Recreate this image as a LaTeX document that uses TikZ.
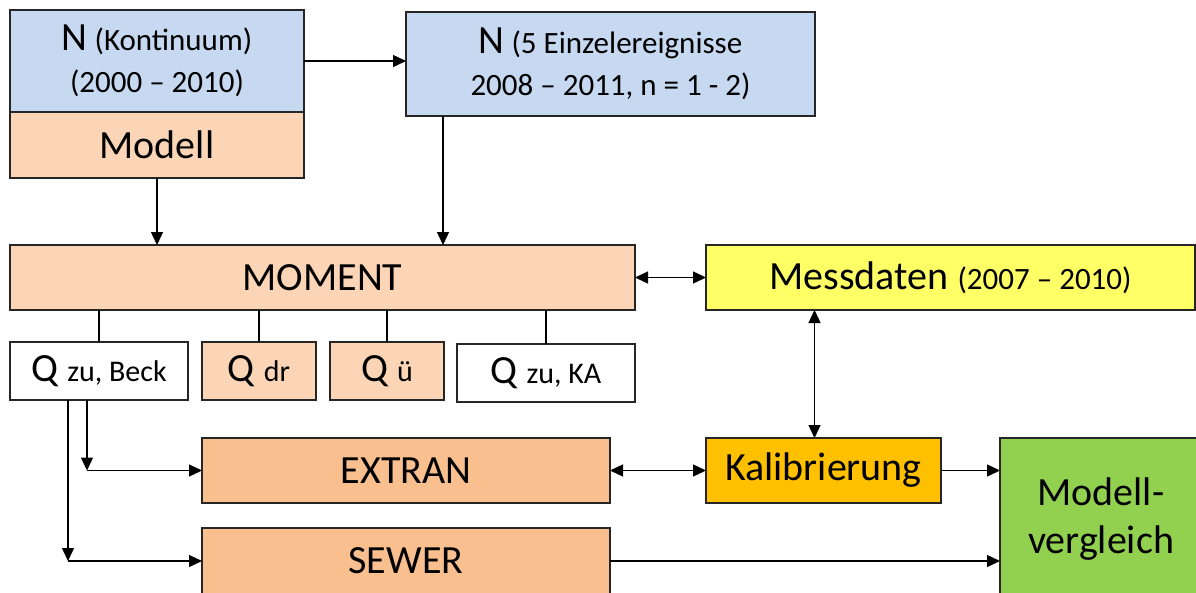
\documentclass[tikz,border=0pt]{standalone}
\usepackage{fontspec}
\setmainfont{Carlito}
\usetikzlibrary{arrows.meta}
\definecolor{nblue}{HTML}{C6D9F1}
\definecolor{peach}{HTML}{FBD5B5}
\definecolor{myTan}{HTML}{F9BF8F}
\definecolor{myYellow}{HTML}{FFFF66}
\definecolor{myOrange}{HTML}{FFC000}
\definecolor{myGreen}{HTML}{92D050}
\newcommand\fsz[2]{\fontsize{#1}{#2}\selectfont}
\newcommand\bigtxt[1]{{\fsz{40}{42}#1}}
\begin{document}
\begin{tikzpicture}[x=1pt,y=-1pt,
  box/.style={draw=black!85, line width=1.2pt, inner sep=0pt, outer sep=0pt, align=center, font=\fsz{40}{48}},
  small/.style={font=\fsz{31}{42}},
  arr/.style={-{Triangle[length=13pt,width=12pt]}, line width=1.4pt},
  darr/.style={{Triangle[length=13pt,width=12pt]}-{Triangle[length=13pt,width=12pt]}, line width=1.4pt},
  tie/.style={line width=1.4pt}]
\useasboundingbox (0,0) rectangle (1196,592);
\clip (0,0) rectangle (1196,592);
% top boxes
\node[box, small, fill=nblue, minimum width=294pt, minimum height=102pt] (n1) at (157,61)
  {\bigtxt{N} (Kontinuum)\\(2000 – 2010)};
\node[box, fill=peach, minimum width=294pt, minimum height=66pt] (modell) at (157,145)
  {Modell};
\node[box, small, fill=nblue, minimum width=409pt, minimum height=104pt] (n2) at (610.5,64)
  {\bigtxt{N} (5 Einzelereignisse\\2008 – 2011, n = 1 - 2)};
% middle
\node[box, fill=peach, minimum width=625pt, minimum height=65pt] (moment) at (322.5,277.5)
  {MOMENT};
\node[box, fill=myYellow, minimum width=489pt, minimum height=65pt] (mess) at (950.5,277.5)
  {Messdaten {\fsz{31}{42}(2007 – 2010)}};
% Q boxes
\node[box, fill=white, minimum width=178pt, minimum height=58pt] (qbeck) at (99,371)
  {Q {\fsz{30}{42}zu, Beck}};
\node[box, fill=peach, minimum width=114pt, minimum height=58pt] (qdr) at (259,371)
  {Q {\fsz{30}{42}dr}};
\node[box, fill=peach, minimum width=114pt, minimum height=58pt] (qu) at (387,371)
  {Q {\fsz{30}{42}ü}};
\node[box, fill=white, minimum width=178pt, minimum height=58pt] (qka) at (546,373)
  {Q {\fsz{30}{42}zu, KA}};
% lower boxes
\node[box, fill=myTan, minimum width=408pt, minimum height=65pt] (extran) at (406,470.5)
  {EXTRAN};
\node[box, fill=myTan, minimum width=408pt, minimum height=66pt] (sewer) at (406,561)
  {SEWER};
\node[box, fill=myOrange, minimum width=235pt, minimum height=65pt] (kal) at (823.5,470.5)
  {Kalibrierung};
\node[box, fill=myGreen, minimum width=202pt, minimum height=162pt] (mv) at (1101,519)
  {Modell-\\vergleich};
% connectors
\draw[arr] (n1.east) -- (n1.east -| n2.west);
\draw[arr] (modell.south) -- (modell.south |- moment.north);
\draw[arr] ([xshift=37pt]n2.south west) -- ([xshift=37pt]n2.south west |- moment.north);
\draw[darr] (moment.east) -- (mess.west);
\draw[darr] ([xshift=-9pt]kal.north) -- ([xshift=-9pt]kal.north |- mess.south);
\draw[darr] (extran.east) -- (kal.west);
\draw[arr] (kal.east) -- (kal.east -| mv.west);
\draw[arr] (sewer.east) -- (sewer.east -| mv.west);
\foreach \q in {qbeck,qdr,qu,qka}
  \draw[tie] (\q.north) -- (\q.north |- moment.south);
\coordinate (c1) at (87,470.5);
\coordinate (c2) at (68,561);
\draw[arr] (qbeck.south -| c1) -- (c1);
\draw[arr] (c1) -- (extran.west);
\draw[arr] (qbeck.south -| c2) -- (c2);
\draw[arr] (c2) -- (sewer.west);
\end{tikzpicture}
\end{document}
